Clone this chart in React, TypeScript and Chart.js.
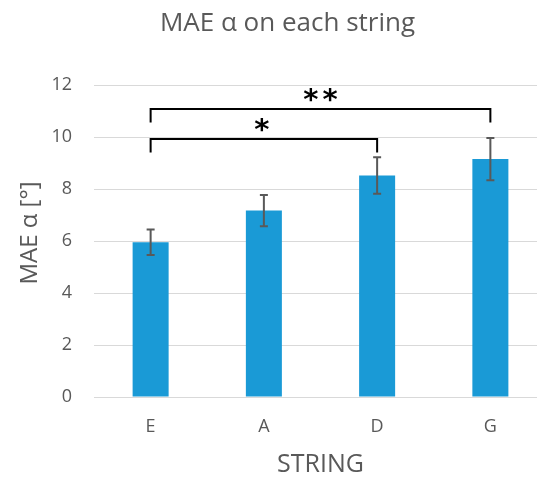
import React, { useEffect, useRef } from "react";
import { Chart, registerables } from "chart.js";

Chart.register(...registerables);

const chartTitle = "MAE α on each string";
const yAxisTitle = "MAE α [°]";
const xAxisTitle = "STRING";
const categories = ["E", "A", "D", "G"];
const maeValues = [5.95, 7.17, 8.52, 9.15];
const errValues = [0.49, 0.6, 0.7, 0.81];
const yTicks = [0, 2, 4, 6, 8, 10, 12];

const sigPairs: [string, string][] = [
  ["E", "D"],
  ["E", "G"],
];
const sigLabels = ["*", "**"];
const sigLevels = [9.92, 11.08];
const sigLabelLevels = [10.46, 11.62];

const FONT = "'Open Sans', 'DejaVu Sans', sans-serif";
const GREY = "#595959";

const titlePlugin = {
  id: "customTitles",
  afterDraw(chart: any) {
    const { ctx, chartArea } = chart;
    ctx.save();
    ctx.fillStyle = GREY;
    ctx.font = `26px ${FONT}`;
    ctx.textAlign = "center";
    ctx.textBaseline = "middle";
    ctx.fillText(chartTitle, chart.width / 2, 24);
    ctx.font = `24px ${FONT}`;
    ctx.translate(30, (chartArea.top + chartArea.bottom) / 2 - 8);
    ctx.rotate(-Math.PI / 2);
    ctx.fillText(yAxisTitle, 0, 0);
    ctx.restore();
  },
};

const errorBarPlugin = {
  id: "errorBars",
  afterDatasetsDraw(chart: any) {
    const { ctx, scales } = chart;
    const x = scales.x;
    const y = scales.y;
    ctx.save();
    ctx.strokeStyle = GREY;
    ctx.lineWidth = 2;
    maeValues.forEach((v, i) => {
      const e = errValues[i];
      const px = x.getPixelForValue(i);
      const top = y.getPixelForValue(v + e);
      const bot = y.getPixelForValue(v - e);
      ctx.beginPath();
      ctx.moveTo(px, top);
      ctx.lineTo(px, bot);
      ctx.moveTo(px - 4, top);
      ctx.lineTo(px + 4, top);
      ctx.moveTo(px - 4, bot);
      ctx.lineTo(px + 4, bot);
      ctx.stroke();
    });
    ctx.restore();
  },
};

const sigPlugin = {
  id: "significance",
  afterDraw(chart: any) {
    const { ctx, scales } = chart;
    const x = scales.x;
    const y = scales.y;
    ctx.save();
    ctx.strokeStyle = "#000";
    ctx.fillStyle = "#000";
    ctx.lineWidth = 2;
    ctx.font = `bold 29px 'DejaVu Sans', sans-serif`;
    ctx.textAlign = "center";
    ctx.textBaseline = "alphabetic";
    (ctx as any).letterSpacing = "4px";
    sigPairs.forEach((pair, i) => {
      const x1 = x.getPixelForValue(categories.indexOf(pair[0]));
      const x2 = x.getPixelForValue(categories.indexOf(pair[1]));
      const ly = y.getPixelForValue(sigLevels[i]);
      const drop = 13.5;
      ctx.beginPath();
      ctx.moveTo(x1, ly + drop);
      ctx.lineTo(x1, ly);
      ctx.lineTo(x2, ly);
      ctx.lineTo(x2, ly + drop);
      ctx.stroke();
      const m = ctx.measureText(sigLabels[i]);
      const cy = y.getPixelForValue(sigLabelLevels[i]);
      const off = (m.actualBoundingBoxAscent - m.actualBoundingBoxDescent) / 2;
      const cx = (x1 + x2) / 2 + (sigLabels[i].length > 1 ? 2 : 0);
      ctx.fillText(sigLabels[i], cx, cy + off);
    });
    ctx.restore();
  },
};

export default function App() {
  const ref = useRef<HTMLCanvasElement>(null);
  useEffect(() => {
    if (!ref.current) return;
    const chart = new Chart(ref.current, {
      type: "bar",
      data: {
        labels: categories,
        datasets: [
          {
            data: maeValues,
            backgroundColor: "#1a9ad6",
            borderWidth: 0,
            barPercentage: 0.318,
            categoryPercentage: 1,
          },
        ],
      },
      options: {
        responsive: false,
        animation: false,
        devicePixelRatio: 1,
        layout: { padding: { left: 0, right: 28, top: 85, bottom: 0 } },
        plugins: {
          legend: { display: false },
          tooltip: { enabled: false },
          title: { display: false },
        },
        scales: {
          x: {
            afterFit: (scale: any) => {
              scale.height = 83;
            },
            grid: { display: false, drawTicks: false },
            border: { display: false },
            ticks: { color: GREY, font: { family: FONT, size: 18 }, padding: 19 },
            title: {
              display: true,
              text: xAxisTitle,
              color: GREY,
              font: { family: FONT, size: 25 },
              padding: { top: 12, bottom: 0 },
            },
          },
          y: {
            min: 0,
            max: 12,
            afterFit: (scale: any) => {
              scale.width = 94;
            },
            afterBuildTicks: (axis: any) => {
              axis.ticks = yTicks.map((v) => ({ value: v }));
            },
            grid: { color: "#d9d9d9", lineWidth: 1, drawTicks: false },
            border: { display: false },
            ticks: { color: GREY, font: { family: FONT, size: 18 }, padding: 22 },
            title: { display: false },
          },
        },
      },
      plugins: [titlePlugin, errorBarPlugin, sigPlugin],
    });
    return () => chart.destroy();
  }, []);
  return (
    <div
      style={{
        position: "fixed",
        left: 0,
        top: 0,
        width: 537,
        height: 480,
        overflow: "hidden",
        background: "#fff",
      }}
    >
      <canvas ref={ref} width={575} height={480} style={{ width: 575, height: 480, display: "block" }} />
    </div>
  );
}
